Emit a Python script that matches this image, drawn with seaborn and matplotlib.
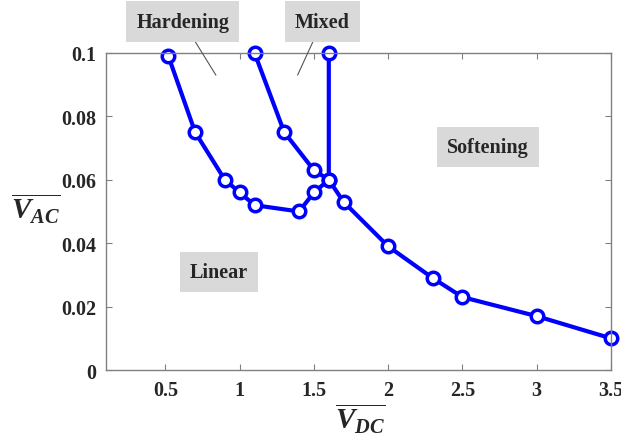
import pandas as pd
import matplotlib
matplotlib.use('Agg')
import matplotlib.pyplot as plt
import seaborn as sns

# boundary between linear and hardening, going up to the mixed region
hard_x = [0.52, 0.7, 0.9, 1.0, 1.1, 1.4, 1.5, 1.6, 1.6]
hard_y = [0.099, 0.075, 0.060, 0.056, 0.052, 0.050, 0.056, 0.060, 0.100]

# boundary of the softening region
soft_x = [1.1, 1.3, 1.5, 1.6, 1.7, 2.0, 2.3, 2.5, 3.0, 3.5]
soft_y = [0.100, 0.075, 0.063, 0.060, 0.053, 0.039, 0.029, 0.023, 0.017, 0.010]

x_ticks = [0.5, 1, 1.5, 2, 2.5, 3, 3.5]
x_labels = ['0.5', '1', '1.5', '2', '2.5', '3', '3.5']
y_ticks = [0, 0.02, 0.04, 0.06, 0.08, 0.1]
y_labels = ['0', '0.02', '0.04', '0.06', '0.08', '0.1']

sns.set_style('ticks')
plt.rcParams['font.family'] = ['Liberation Serif', 'DejaVu Serif']
plt.rcParams['font.weight'] = 'bold'
plt.rcParams['mathtext.fontset'] = 'custom'
plt.rcParams['mathtext.rm'] = 'Liberation Serif:bold'
plt.rcParams['mathtext.it'] = 'Liberation Serif:italic:bold'
plt.rcParams['mathtext.bf'] = 'Liberation Serif:bold'

fig = plt.figure(figsize=(6.21, 4.35), dpi=100)
ax = fig.add_axes([0.1707, 0.147, 0.8132, 0.729])

df1 = pd.DataFrame({'x': hard_x, 'y': hard_y})
df2 = pd.DataFrame({'x': soft_x, 'y': soft_y})
style = dict(color='#0000ff', linewidth=3, marker='o', markersize=9,
             markerfacecolor='white', markeredgecolor='#0000ff',
             markeredgewidth=2.5, sort=False, estimator=None, clip_on=False)
sns.lineplot(data=df1, x='x', y='y', ax=ax, **style)
sns.lineplot(data=df2, x='x', y='y', ax=ax, **style)

ax.set_xlim(0.1, 3.5)
ax.set_ylim(0, 0.1)
ax.set_xticks(x_ticks)
ax.set_xticklabels(x_labels)
ax.set_yticks(y_ticks)
ax.set_yticklabels(y_labels)
ax.tick_params(direction='in', length=4, width=0.8, color='#808080',
               top=True, right=True, labelsize=14.5, pad=7)
for s in ax.spines.values():
    s.set_color('#808080')
    s.set_linewidth(1.0)

ax.set_xlabel(r'$\overline{V_{DC}}$', fontsize=21, va='center')
ax.set_ylabel(r'$\overline{V_{AC}}$', fontsize=21, rotation=0, va='center', ha='center')
ax.xaxis.set_label_coords(0.503, -0.15)
ax.yaxis.set_label_coords(-0.14, 0.514)

box = dict(boxstyle='square,pad=0.5', facecolor='#d9d9d9', edgecolor='none')
line = dict(arrowstyle='-', color='#555555', lw=0.8, shrinkA=0, shrinkB=0)
ax.annotate('Hardening', xy=(0.84, 0.093), xytext=(0.152, 1.099),
            textcoords='axes fraction', ha='center', va='center',
            fontsize=14.5, fontweight='bold', bbox=box, arrowprops=line,
            annotation_clip=False)
ax.annotate('Mixed', xy=(1.39, 0.093), xytext=(0.428, 1.099),
            textcoords='axes fraction', ha='center', va='center',
            fontsize=14.5, fontweight='bold', bbox=box, arrowprops=line,
            annotation_clip=False)
ax.text(2.67, 0.0703, 'Softening', ha='center', va='center',
        fontsize=14.5, fontweight='bold', bbox=box)
ax.text(0.86, 0.031, 'Linear', ha='center', va='center',
        fontsize=14.5, fontweight='bold', bbox=box)

fig.savefig('out.png', dpi=100)
